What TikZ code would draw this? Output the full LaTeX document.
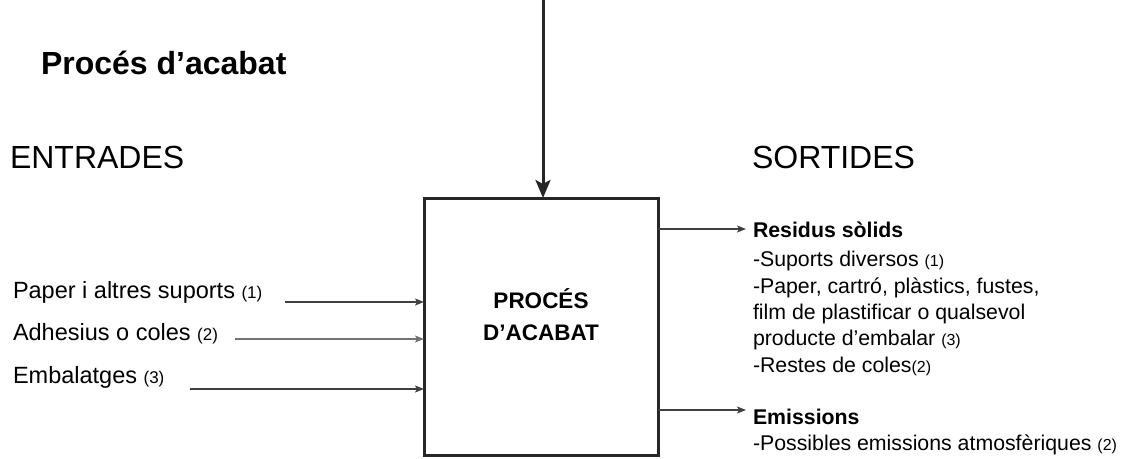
\documentclass[tikz,border=0pt]{standalone}
\usepackage{fontspec}
\setmainfont{Liberation Sans}
\usetikzlibrary{arrows.meta}
\newcommand{\refnum}[1]{{\fontsize{17}{20}\selectfont #1}}
\newcommand{\refsm}[1]{{\fontsize{16}{20}\selectfont #1}}
\begin{document}
\begin{tikzpicture}[x=1pt,y=-1pt,
  every node/.style={inner sep=0pt,outer sep=0pt},
  inlbl/.style={anchor=base west,font=\fontsize{23.5}{28}\selectfont},
  outlbl/.style={anchor=base west,font=\fontsize{21.3}{26}\selectfont},
  outhead/.style={anchor=base west,font=\bfseries\fontsize{21.3}{26}\selectfont},
  head/.style={anchor=base west,font=\fontsize{32}{38}\selectfont},
  flow/.style={draw=black!75,line width=1.2pt,-{Stealth[length=9pt,width=7pt,inset=2pt]}},
  feed/.style={draw=black!85,line width=3pt,-{Stealth[length=18pt,width=15pt,inset=4pt]}},
  procbox/.style={draw=black!85,line width=3pt}]
\useasboundingbox (0,0) rectangle (1129,458);

% process box
\node[procbox,minimum width=234pt,minimum height=257pt] (box) at (541,326.5) {};
\node[anchor=base,font=\bfseries\fontsize{22.5}{26}\selectfont] (boxtxt1) at (541,308) {PROCÉS};
\node[anchor=base,font=\bfseries\fontsize{22.5}{26}\selectfont] (boxtxt2) at (541,340) {D’ACABAT};

% feed from above
\coordinate (top) at (543,0);
\draw[feed] (top) -- (top |- box.north);

% titles
\node[anchor=base west,font=\bfseries\fontsize{32}{36}\selectfont] (title) at (41,74) {Procés d’acabat};
\node[head] (entr) at (10,168) {ENTRADES};
\node[head] (sort) at (752,168) {SORTIDES};

% inputs
\node[inlbl] (in1) at (13,298) {Paper i altres suports \refnum{(1)}};
\node[inlbl] (in2) at (13,340) {Adhesius o coles \refnum{(2)}};
\node[inlbl] (in3) at (13,383) {Embalatges \refnum{(3)}};
\coordinate (s1) at (285,302);
\coordinate (s2) at (235,339);
\coordinate (s3) at (190,389);
\draw[flow] (s1) -- (s1 -| box.west);
\draw[flow,draw=black!55] (s2) -- (s2 -| box.west);
\draw[flow] (s3) -- (s3 -| box.west);

% outputs
\coordinate (o1) at (746,229);
\coordinate (o2) at (746,410);
\draw[flow] (o1 -| box.east) -- (o1);
\draw[flow] (o2 -| box.east) -- (o2);

\node[outhead] (res) at (753,237) {Residus sòlids};
\node[outlbl] (r1) at (753,266) {-Suports diversos \refsm{(1)}};
\node[outlbl] (r2) at (753,293) {-Paper, cartró, plàstics, fustes,};
\node[outlbl] (r3) at (753,319) {film de plastificar o qualsevol};
\node[outlbl] (r4) at (753,345) {producte d’embalar \refsm{(3)}};
\node[outlbl] (r5) at (753,372) {-Restes de coles\refsm{(2)}};
\node[outhead] (emi) at (753,424) {Emissions};
\node[outlbl] (e1) at (753,450) {-Possibles emissions atmosfèriques \refsm{(2)}};
\end{tikzpicture}
\end{document}
